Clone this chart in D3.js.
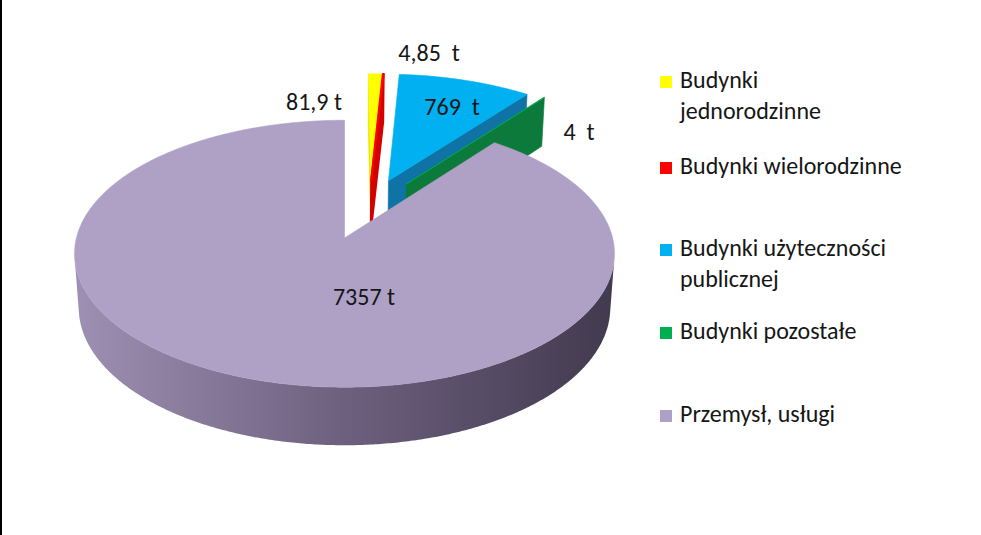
<!DOCTYPE html>
<html>
<head>
<meta charset="utf-8">
<script src="https://cdn.jsdelivr.net/npm/d3@7"></script>
<style>
  html, body { margin: 0; padding: 0; background: #fff; }
  svg { display: block; font-family: Carlito, Calibri, Lato, sans-serif; }
</style>
</head>
<body>
<div id="chart"></div>
<script>
// data
var categories = ["Budynki jednorodzinne", "Budynki wielorodzinne", "Budynki użyteczności publicznej", "Budynki pozostałe", "Przemysł, usługi"];
var values = [81.9, 4.85, 769, 4, 7357];
var valueLabels = ["81,9 t", "4,85  t", "769  t", "4  t", "7357 t"];
var legendLines = [["Budynki", "jednorodzinne"], ["Budynki wielorodzinne"], ["Budynki użyteczności", "publicznej"], ["Budynki pozostałe"], ["Przemysł, usługi"]];

// look
var topColors = ["#FFFF00", "#FF0000", "#00B0F0", "#00B050", "#AFA0C6"];
var wallColors = ["#E8E400", "#D40000", "#0F73A5", "#0B7A3A", "#8A7C9E"];
var explode = [[0.105, -0.463], [0.105, -0.463], [0.173, -0.459], [0.242, -0.43], [0, 0]]; // slice shift, in pie radii
var labelPos = [[314, 110], [429, 61], [452, 115], [579, 140], [364, 305]];
var legendRows = [88, 174, 256, 339, 422];

var w = 981, h = 535;

// 3d view of the pie
var cx = 344.5, cy = 238, focal = 1981, dist = 7.39, thick = 0.233;
var tilt = 29.4 * Math.PI / 180;
var sinT = Math.sin(tilt), cosT = Math.cos(tilt);
var cam = [0, dist * sinT, dist * cosT];

function project(X, Y, Z) {
  var yc = Y * cosT - Z * sinT;
  var dz = dist - Z * cosT - Y * sinT;
  return [cx + focal * X / dz, cy - focal * yc / dz];
}

function facing(nx, nz, px, pz) {
  return nx * (cam[0] - px) + nz * (cam[2] - pz) > 0;
}

var svg = d3.select("#chart")
  .append("svg")
  .attr("width", w)
  .attr("height", h);

var defs = svg.append("defs");
var grad = defs.append("linearGradient")
  .attr("id", "sideGrad")
  .attr("gradientUnits", "userSpaceOnUse")
  .attr("x1", cx - 270).attr("x2", cx + 268)
  .attr("y1", 0).attr("y2", 0);
grad.append("stop").attr("offset", "0%").attr("stop-color", "#9E90B2");
grad.append("stop").attr("offset", "50%").attr("stop-color", "#6D607F");
grad.append("stop").attr("offset", "100%").attr("stop-color", "#423A4E");

var arcs = d3.pie().sort(null).value(function(d) { return d; })(values);

var line = d3.line();
var faces = [];

arcs.forEach(function(a, i) {
  var o = explode[i];
  var a0 = a.startAngle, a1 = a.endAngle;
  var n = Math.max(2, Math.ceil((a1 - a0) / (Math.PI / 360)));
  var angles = d3.range(n + 1).map(function(k) { return a0 + (a1 - a0) * k / n; });

  function pt(t, r, Y) {
    return project(o[0] + r * Math.sin(t), Y, o[1] - r * Math.cos(t));
  }

  var list = [];

  // radial walls
  [[a0, -1], [a1, 1]].forEach(function(e) {
    var t = e[0], s = e[1];
    var nx = s * Math.cos(t), nz = s * Math.sin(t);
    var px = o[0] + 0.5 * Math.sin(t), pz = o[1] - 0.5 * Math.cos(t);
    if (facing(nx, nz, px, pz)) {
      list.push({
        pts: [pt(t, 0, 0), pt(t, 1, 0), pt(t, 1, -thick), pt(t, 0, -thick)],
        fill: wallColors[i]
      });
    }
  });

  // outer wall, front part only
  var vis = angles.filter(function(t) {
    return facing(Math.sin(t), -Math.cos(t), o[0] + Math.sin(t), o[1] - Math.cos(t));
  });
  if (vis.length > 1) {
    var topEdge = vis.map(function(t) { return pt(t, 1, 0); });
    var botEdge = vis.map(function(t) { return pt(t, 1, -thick); }).reverse();
    list.push({ pts: topEdge.concat(botEdge), fill: i === 4 ? "url(#sideGrad)" : wallColors[i] });
  }

  // top face
  list.push({
    pts: [pt(a0, 0, 0)].concat(angles.map(function(t) { return pt(t, 1, 0); })),
    fill: topColors[i]
  });

  faces.push({ depth: dist - o[1] * cosT, idx: i, list: list });
});

faces.sort(function(p, q) { return q.depth - p.depth || p.idx - q.idx; });

var pieG = svg.append("g");
faces.forEach(function(s) {
  pieG.selectAll(null)
    .data(s.list)
    .enter()
    .append("path")
    .attr("d", function(d) { return line(d.pts) + "Z"; })
    .attr("fill", function(d) { return d.fill; })
    .attr("stroke", function(d) { return d.fill.indexOf("url") === 0 ? "none" : d.fill; })
    .attr("stroke-width", s.idx === 1 ? 2 : 0.6)
    .attr("stroke-linejoin", "round");
});

// data labels
svg.append("g")
  .selectAll("text")
  .data(valueLabels)
  .enter()
  .append("text")
  .attr("x", function(d, i) { return labelPos[i][0]; })
  .attr("y", function(d, i) { return labelPos[i][1]; })
  .attr("text-anchor", "middle")
  .style("white-space", "pre")
  .attr("font-size", 24)
  .attr("fill", "#161616")
  .text(function(d) { return d; });

// legend
var leg = svg.append("g")
  .selectAll("g")
  .data(categories)
  .enter()
  .append("g")
  .attr("transform", function(d, i) { return "translate(660," + legendRows[i] + ")"; });

leg.append("rect")
  .attr("x", 0)
  .attr("y", -12)
  .attr("width", 12)
  .attr("height", 12)
  .attr("fill", function(d, i) { return topColors[i]; });

leg.append("text")
  .attr("x", 20)
  .attr("y", 0)
  .attr("font-size", 24)
  .attr("fill", "#161616")
  .selectAll("tspan")
  .data(function(d, i) { return legendLines[i]; })
  .enter()
  .append("tspan")
  .attr("x", 20)
  .attr("dy", function(d, k) { return k === 0 ? 0 : 31; })
  .text(function(d) { return d; });

// border on the left
svg.append("line")
  .attr("x1", 1).attr("x2", 1)
  .attr("y1", 0).attr("y2", h)
  .style("stroke", "black")
  .style("stroke-width", 2);
</script>
</body>
</html>
